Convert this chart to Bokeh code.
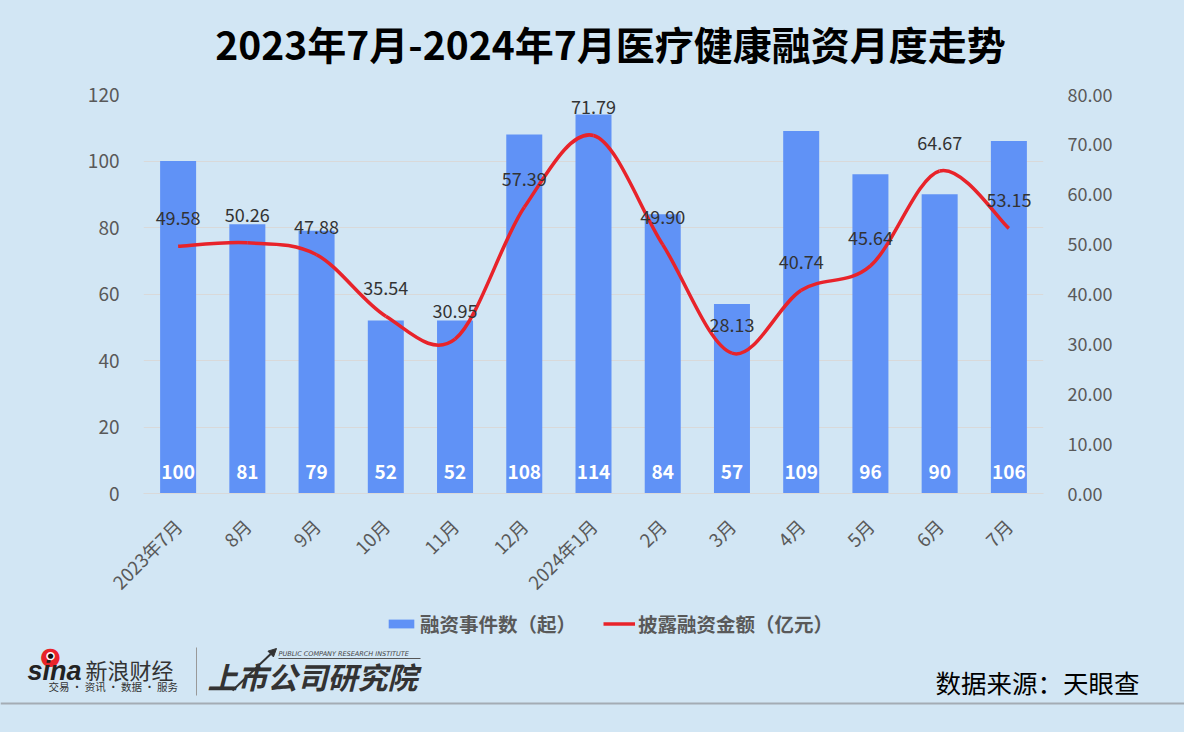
import numpy as np
from bokeh.plotting import figure
from bokeh.layouts import column
from bokeh.models import (Range1d, LinearAxis, FixedTicker, ColumnDataSource, Label,
                          Legend, LegendItem, PrintfTickFormatter, Arrow, NormalHead)
from bokeh.core.properties import value
from bokeh.embed import file_html
from bokeh.resources import INLINE

# ---------------- data ----------------
months = ["2023年7月", "8月", "9月", "10月", "11月", "12月", "2024年1月",
          "2月", "3月", "4月", "5月", "6月", "7月"]
deal_counts = [100, 81, 79, 52, 52, 108, 114, 84, 57, 109, 96, 90, 106]
amounts = [49.58, 50.26, 47.88, 35.54, 30.95, 57.39, 71.79, 49.90, 28.13,
           40.74, 45.64, 64.67, 53.15]
left_ticks = [0, 20, 40, 60, 80, 100, 120]
right_ticks = [0, 10, 20, 30, 40, 50, 60, 70, 80]

title_text = "2023年7月-2024年7月医疗健康融资月度走势"
series_names = ["融资事件数（起）", "披露融资金额（亿元）"]
source_text = "数据来源：天眼查"

# ---------------- styles ----------------
BG = "#d2e6f4"
BAR = "#6092f6"
RED = "#e8232a"
GRAY = "#595959"
FONT = "Noto Sans CJK SC"

W = 1184
H_TOP, H_MAIN, H_BOT = 74, 533, 125
ML, MR, MT, MB = 143, 141, 20, 114
N = len(months)


def blank_fig(h):
    f = figure(width=W, height=h, output_backend="svg", toolbar_location=None,
               x_range=Range1d(0, W), y_range=Range1d(h, 0),
               min_border=0, background_fill_color=BG, border_fill_color=BG)
    f.outline_line_color = None
    f.axis.visible = False
    f.grid.visible = False
    f.frame_align = False
    return f

# ---------------- title ----------------
pt = blank_fig(H_TOP)
pt.add_layout(Label(x=610, y=42, text=title_text, text_align="center",
                    text_baseline="middle", text_font=FONT, text_font_style="bold",
                    text_font_size="39px", text_color="black"))

# ---------------- main chart ----------------
p = figure(width=W, height=H_MAIN, output_backend="svg", toolbar_location=None,
           x_range=Range1d(0, N), y_range=Range1d(0, 120),
           min_border_left=ML, min_border_right=MR, min_border_top=MT, min_border_bottom=MB,
           background_fill_color=BG, border_fill_color=BG)
p.outline_line_color = None
p.frame_align = False
p.extra_y_ranges = {"amt": Range1d(0, 80)}

xs = [i + 0.5 for i in range(N)]
src = ColumnDataSource(dict(x=xs, c=deal_counts, lab=[str(v) for v in deal_counts],
                            a=amounts, alab=["%.2f" % v for v in amounts], zero=[0] * N))
bars = p.vbar(x="x", top="c", width=0.52, source=src, fill_color=BAR, line_color=None)

# smoothed line: cubic bezier segments through the data points
a = np.array(amounts)
xa = np.array(xs)
pa = np.concatenate([[a[0]], a, [a[-1]]])
pxa = np.concatenate([[xa[0]], xa, [xa[-1]]])
bsrc = ColumnDataSource(dict(
    x0=xa[:-1], y0=a[:-1], x1=xa[1:], y1=a[1:],
    cx0=xa[:-1] + (pxa[2:-1] - pxa[:-3]) / 6, cy0=a[:-1] + (pa[2:-1] - pa[:-3]) / 6,
    cx1=xa[1:] - (pxa[3:] - pxa[1:-2]) / 6, cy1=a[1:] - (pa[3:] - pa[1:-2]) / 6,
))
curve = p.bezier(x0="x0", y0="y0", x1="x1", y1="y1", cx0="cx0", cy0="cy0", cx1="cx1", cy1="cy1",
                 source=bsrc, line_color=RED, line_width=3.5, y_range_name="amt")

p.text(x="x", y="zero", text="lab", source=src, y_offset=-22, text_align="center",
       text_baseline="middle", text_color="white", text_font=value(FONT),
       text_font_style="bold", text_font_size="19px")
p.text(x="x", y="a", text="alab", source=src, y_range_name="amt", y_offset=-28,
       text_align="center", text_baseline="middle", text_color="#333333",
       text_font=value(FONT), text_font_size="18px")

p.yaxis.ticker = FixedTicker(ticks=left_ticks)
ra = LinearAxis(y_range_name="amt", ticker=FixedTicker(ticks=right_ticks),
                formatter=PrintfTickFormatter(format="%.2f"))
p.add_layout(ra, "right")
p.xaxis.ticker = FixedTicker(ticks=xs)
p.xaxis.major_label_overrides = {float(x): m for x, m in zip(xs, months)}
p.xaxis.major_label_orientation = np.pi / 4
for ax in [p.xaxis[0], p.yaxis[0], ra]:
    ax.major_tick_line_color = None
    ax.minor_tick_line_color = None
    ax.major_label_text_font = FONT
    ax.major_label_text_font_size = "18px"
    ax.major_label_text_color = GRAY
p.yaxis[0].major_label_text_font_size = "19px"
p.xaxis.major_label_text_font_size = "18.5px"
p.yaxis[0].axis_line_color = None
ra.axis_line_color = None
p.xaxis.axis_line_color = "#d9d9d9"
p.yaxis[0].major_label_standoff = 18
ra.major_label_standoff = 18
p.xaxis.major_label_standoff = 23
p.xgrid.grid_line_color = None
p.ygrid.grid_line_color = "#d9d9d9"

# ---------------- legend + footer ----------------
pb = blank_fig(H_BOT)
Y0 = H_TOP + H_MAIN  # footer figure starts at this page row
# invisible proxies drawn only as legend swatches
leg_bar = pb.vbar(x="x", top="c", width=0.52, source=src, fill_color=BAR, line_color=None,
                  visible=False)
leg_line = pb.line(x="x", y="a", source=src, line_color=RED, line_width=3.5, visible=False)
for rend, name, lx in [(leg_bar, series_names[0], 385), (leg_line, series_names[1], 603)]:
    lg = Legend(items=[LegendItem(label=name, renderers=[rend])],
                orientation="horizontal", location=(lx, H_BOT - (638 - Y0)), margin=0, padding=0,
                glyph_width=32, glyph_height=11, label_standoff=3,
                label_height=20, click_policy="none",
                label_text_font=FONT, label_text_font_size="19.5px", label_text_font_style="bold",
                label_text_color=GRAY, background_fill_alpha=0, border_line_color=None)
    pb.add_layout(lg, "center")

# sina logo (approximation)
pb.add_layout(Label(x=50, y=655 - Y0, text="●", text_align="center", text_baseline="middle",
                    text_font="DejaVu Sans", text_font_size="24px", text_color=RED))
pb.add_layout(Label(x=50, y=655 - Y0, text="●", text_align="center", text_baseline="middle",
                    text_font="DejaVu Sans", text_font_size="11px", text_color="white"))
pb.add_layout(Label(x=50, y=655 - Y0, text="●", text_align="center", text_baseline="middle",
                    text_font="DejaVu Sans", text_font_size="7px", text_color="#111111"))
pb.add_layout(Label(x=27, y=670 - Y0, text="sina", text_align="left", text_baseline="middle",
                    text_font="Liberation Sans", text_font_style="bold italic",
                    text_font_size="27px", text_color="#222222"))
pb.add_layout(Label(x=85, y=668 - Y0, text="新浪财经", text_align="left", text_baseline="middle",
                    text_font=FONT, text_font_size="22px", text_color="#333333"))
pb.add_layout(Label(x=48, y=686 - Y0, text="交易 · 资讯 · 数据 · 服务", text_align="left",
                    text_baseline="middle", text_font=FONT, text_font_size="10.5px",
                    text_color="#333333"))
pb.segment(x0=[196], y0=[647 - Y0], x1=[196], y1=[695 - Y0], line_color="#999999", line_width=1)
pb.add_layout(Arrow(x_start=232, y_start=690 - Y0, x_end=276, y_end=648 - Y0,
                    line_color="#333333", line_width=2,
                    end=NormalHead(size=8, fill_color="#333333", line_color="#333333")))
pb.add_layout(Label(x=207, y=675 - Y0, text="上市公司研究院", text_align="left",
                    text_baseline="middle", text_font=FONT, text_font_style="bold italic",
                    text_font_size="30px", text_color="#333333"))
pb.add_layout(Label(x=278, y=653 - Y0, text="PUBLIC COMPANY RESEARCH INSTITUTE", text_align="left",
                    text_baseline="middle", text_font="DejaVu Sans", text_font_style="italic",
                    text_font_size="6.5px", text_color="#444444"))
pb.segment(x0=[278], y0=[658 - Y0], x1=[420], y1=[658 - Y0], line_color="#555555", line_width=1)
pb.add_layout(Label(x=1139, y=681 - Y0, text=source_text, text_align="right",
                    text_baseline="middle", text_font=FONT, text_font_size="25.5px",
                    text_color="black"))
pb.segment(x0=[0], y0=[703 - Y0], x1=[W], y1=[703 - Y0], line_color="#a4acb4", line_width=2)

layout = column(pt, p, pb, spacing=0)

html = file_html(layout, INLINE)
style = ("<style>html,body{margin:0;padding:0;background:%s;overflow:hidden;}</style>" % BG)
html = html.replace("</head>", style + "</head>", 1)
open("out.html", "w").write(html)
